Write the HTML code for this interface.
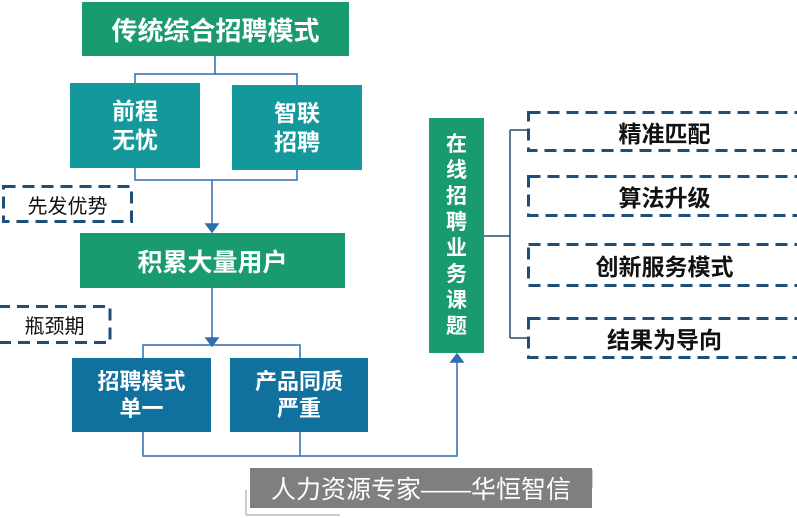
<!DOCTYPE html>
<html><head><meta charset="utf-8"><style>
body{margin:0;width:797px;height:518px;background:#fff;position:relative;overflow:hidden;font-family:"Liberation Sans","Noto Sans CJK SC",sans-serif}
.b{position:absolute;color:#fff;font-weight:bold;display:flex;align-items:center;justify-content:center;text-align:center}
.g{background:#1a9a70}.t{background:#13999b}.d{background:#10709e}
.dash{position:absolute;display:flex;align-items:center;justify-content:center;font-weight:bold;font-size:23px;color:#111}
</style></head><body>
<svg width="797" height="518" style="position:absolute;left:0;top:0" fill="none" stroke="#2e6fb0" stroke-width="1.5">
<path d="M215 56V74M135 83V74H297V85M135 168V180H297V170M212 180V226"/>
<path d="M206 224L212 232L218 224Z" fill="#2e6fb0"/>
<path d="M212 288V338"/><path d="M206 338L212 346L218 338Z" fill="#2e6fb0"/>
<path d="M143 358V345H300V358M143 432V456H300V432M300 456H457V362"/>
<path d="M451 362L457 354L463 362Z" fill="#2e6fb0"/>
<path d="M484 236H510M510 130V338M510 130H527M510 338H527" stroke="#1f4e79"/>
<path d="M246 515V490M246 515H340M592 470V488M592 470H500" stroke="#ccc" stroke-width="2"/>
<g stroke="#1f4e79" stroke-width="3" stroke-dasharray="12 7">
<rect x="3.5" y="186.5" width="128" height="35"/>
<rect x="-2" y="306.5" width="112" height="36"/>
<rect x="528.5" y="112.5" width="280" height="38"/>
<rect x="528.5" y="176.5" width="280" height="39"/>
<rect x="528.5" y="244.5" width="280" height="41"/>
<rect x="528.5" y="318.5" width="280" height="39"/>
</g>
</svg>
<div class="b g" style="left:82px;top:2px;width:267px;height:54px;font-size:26px">传统综合招聘模式</div>
<div class="b t" style="left:70px;top:83px;width:130px;height:85px;font-size:23px;line-height:1.25">前程<br>无忧</div>
<div class="b t" style="left:232px;top:85px;width:130px;height:85px;font-size:23px;line-height:1.25">智联<br>招聘</div>
<div class="dash" style="left:2px;top:185px;width:131px;height:38px;font-weight:normal;font-size:20px">先发优势</div>
<div class="b g" style="left:80px;top:233px;width:265px;height:55px;font-size:25px">积累大量用户</div>
<div class="dash" style="left:-3px;top:305px;width:115px;height:39px;font-weight:normal;font-size:20px">瓶颈期</div>
<div class="b d" style="left:72px;top:358px;width:139px;height:74px;font-size:22px;line-height:1.25">招聘模式<br>单一</div>
<div class="b d" style="left:230px;top:358px;width:138px;height:74px;font-size:22px;line-height:1.25">产品同质<br>严重</div>
<div class="b g" style="left:429px;top:118px;width:55px;height:235px;font-size:21px;line-height:26px">在<br>线<br>招<br>聘<br>业<br>务<br>课<br>题</div>
<div class="dash" style="left:527px;top:111px;width:275px;height:41px">精准匹配</div>
<div class="dash" style="left:527px;top:175px;width:275px;height:42px">算法升级</div>
<div class="dash" style="left:527px;top:243px;width:275px;height:44px">创新服务模式</div>
<div class="dash" style="left:527px;top:317px;width:275px;height:42px">结果为导向</div>
<div class="b" style="left:250px;top:468px;width:342px;height:40px;background:#7f7f7f;font-weight:normal;font-size:25px">人力资源专家——华恒智信</div>
</body></html>
